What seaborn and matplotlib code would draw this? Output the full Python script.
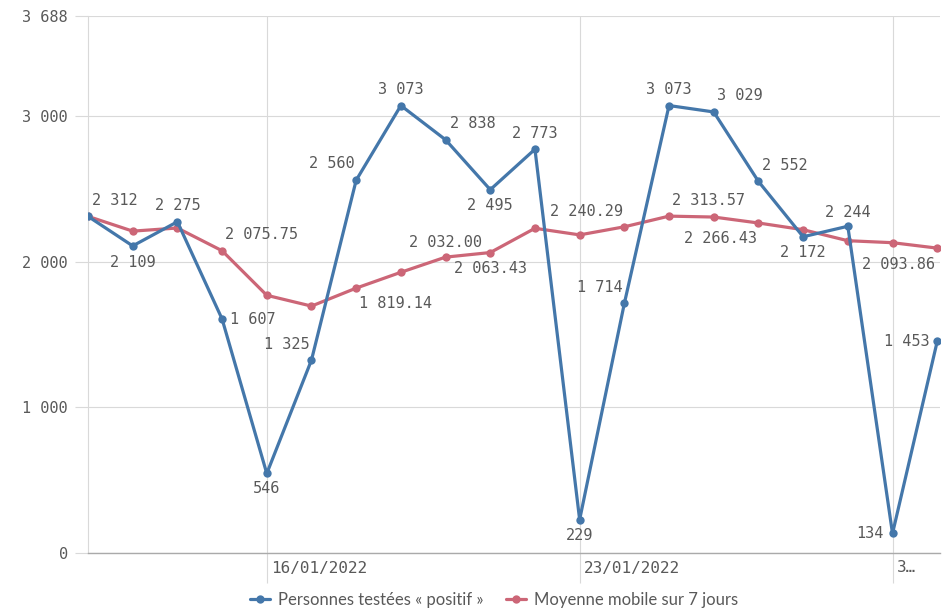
import pandas as pd
import seaborn as sns
import matplotlib.pyplot as plt

# daily values, 12/01/2022 -> 31/01/2022
dates = pd.to_datetime([
    "2022-01-12", "2022-01-13", "2022-01-14", "2022-01-15", "2022-01-16",
    "2022-01-17", "2022-01-18", "2022-01-19", "2022-01-20", "2022-01-21",
    "2022-01-22", "2022-01-23", "2022-01-24", "2022-01-25", "2022-01-26",
    "2022-01-27", "2022-01-28", "2022-01-29", "2022-01-30", "2022-01-31",
])
positifs = [2312, 2109, 2275, 1607, 546, 1325, 2560, 3073, 2838, 2495,
            2773, 229, 1714, 3073, 3029, 2552, 2172, 2244, 134, 1453]
moyenne = [2312, 2210.5, 2232, 2075.75, 1769.8, 1695.67, 1819.14, 1927.86, 2032.00, 2063.43,
           2230, 2184.71, 2240.29, 2313.57, 2307.29, 2266.43, 2220.29, 2144.71, 2131.14, 2093.86]
tick_dates = pd.to_datetime(["2022-01-16", "2022-01-23", "2022-01-30"])
tick_labels = ["16/01/2022", "23/01/2022", "3…"]
y_ticks = [0, 1000, 2000, 3000, 3688]

blue = "#4477aa"
red = "#cc6677"
grid = "#d9d9d9"
txt = "#595959"

df = pd.DataFrame({"date": dates, "positifs": positifs, "moyenne": moyenne})

sns.set_theme(style="white")
plt.rcParams["font.family"] = ["DejaVu Sans Mono"]

fig = plt.figure(figsize=(9.49, 6.15), dpi=100)
ax = fig.add_axes([88 / 949, 1 - 553 / 615, 852 / 949, 537 / 615])

sns.lineplot(data=df, x="date", y="positifs", ax=ax, color=blue, lw=2.3,
             marker="o", markersize=6, markeredgewidth=0, label="Personnes testées « positif »", zorder=3)
sns.lineplot(data=df, x="date", y="moyenne", ax=ax, color=red, lw=2.3,
             marker="o", markersize=6, markeredgewidth=0, label="Moyenne mobile sur 7 jours", zorder=2)

ax.set_xlim(dates[0], dates[-1] + pd.Timedelta(hours=1.5))
ax.set_ylim(0, 3688)
ax.set_xlabel("")
ax.set_ylabel("")

# y axis: grid + short ticks on the left
ax.set_yticks(y_ticks)
ax.set_yticklabels([f"{v:,}".replace(",", " ") for v in y_ticks], fontsize=11, color=txt)
ax.tick_params(axis="y", length=9.4, width=0.8, color=grid, pad=5, left=True)
ax.grid(axis="y", color=grid, lw=0.8)

# x axis: date gridlines extend below the axis, labels to the right
ax.set_xticks(tick_dates)
ax.set_xticklabels([])
ax.tick_params(axis="x", length=21.6, width=0.8, color=grid, bottom=True)
ax.grid(axis="x", color=grid, lw=0.8)
for d, lab in zip(tick_dates, tick_labels):
    ax.annotate(lab, (d, 0), xytext=(4, -15), textcoords="offset pixels",
                ha="left", va="center", fontsize=11.5, color=txt, annotation_clip=False)

for s in ["top", "right"]:
    ax.spines[s].set_visible(False)
ax.spines["left"].set_color(grid)
ax.spines["left"].set_linewidth(0.8)
ax.spines["bottom"].set_color("#aaaaaa")
ax.spines["bottom"].set_linewidth(1)

# data labels: (index, dx, dy, ha) in pixels
blue_pos = [(0, 4, 16, "left"), (1, 0, -17, "center"), (2, 0, 16, "center"), (3, 8, 0, "left"),
            (4, 0, -15, "center"), (5, -2, 16, "right"), (6, -2, 17, "right"), (7, 0, 16, "center"),
            (8, 4, 16, "left"), (9, 0, -16, "center"), (10, 0, 16, "center"), (11, 0, -16, "center"),
            (12, -2, 16, "right"), (13, 0, 16, "center"), (14, 3, 16, "left"), (15, 4, 16, "left"),
            (16, 0, -16, "center"), (17, 0, 14, "center"), (18, -9, 0, "right"), (19, -8, 0, "right")]
red_pos = [(3, 3, 16, "left"), (6, 3, -15, "left"), (8, 0, 15, "center"), (9, 0, -16, "center"),
           (12, -1, 15, "right"), (13, 3, 16, "left"), (15, -1, -16, "right"), (19, -2, -16, "right")]

for i, dx, dy, ha in blue_pos:
    lab = f"{positifs[i]:,}".replace(",", " ")
    ax.annotate(lab, (dates[i], positifs[i]), xytext=(dx, dy), textcoords="offset pixels",
                ha=ha, va="center", fontsize=11, color=txt, annotation_clip=False)
for i, dx, dy, ha in red_pos:
    lab = f"{moyenne[i]:,.2f}".replace(",", " ")
    ax.annotate(lab, (dates[i], moyenne[i]), xytext=(dx, dy), textcoords="offset pixels",
                ha=ha, va="center", fontsize=11, color=txt, annotation_clip=False)

ax.get_legend().remove()
handles, labels = ax.get_legend_handles_labels()
fig.legend(handles, labels, loc="center", bbox_to_anchor=(494 / 949, 1 - 600 / 615), ncol=2,
           frameon=False, handlelength=1.2, handletextpad=0.5, columnspacing=1.3,
           prop={"family": "Lato", "size": 12}, labelcolor=txt)

fig.savefig("out.png", dpi=100)
